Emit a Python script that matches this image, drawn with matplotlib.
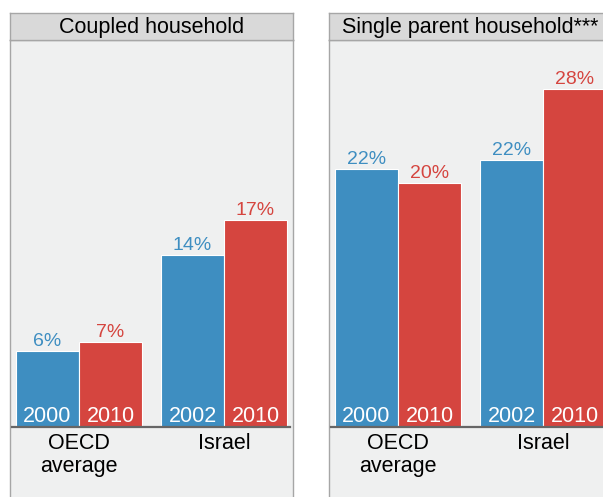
import matplotlib
matplotlib.use("Agg")
import matplotlib.pyplot as plt

plt.rcParams['font.family'] = ['Liberation Sans', 'DejaVu Sans']

# ------------------------------------------------------------------
# Data
# ------------------------------------------------------------------
panels = ['Coupled household', 'Single parent household***']
groups = ['OECD\naverage', 'Israel']
years_first = ['2000', '2002']        # first bar of each group
years_second = ['2010', '2010']       # second bar of each group

coupled_first = [6.3, 14.2]
coupled_second = [7.0, 17.1]
single_first = [21.4, 22.1]
single_second = [20.2, 28.0]

coupled_first_lbl = ['6%', '14%']
coupled_second_lbl = ['7%', '17%']
single_first_lbl = ['22%', '22%']
single_second_lbl = ['20%', '28%']

BLUE = '#3e8ec1'
RED = '#d5453f'
BG = '#eff0f0'
HEAD = '#d9d9d9'
EDGE = '#a6a6a6'

W, H = 603, 497
fig = plt.figure(figsize=(W / 100, H / 100), dpi=100)
fig.patch.set_facecolor('white')

series = [
    (coupled_first, coupled_second, coupled_first_lbl, coupled_second_lbl),
    (single_first, single_second, single_first_lbl, single_second_lbl),
]
panel_left = [10, 329]
panel_w = 283
head_top, head_bot, ax_bot = 13, 40, 512

for p, (title, (v1, v2, l1, l2)) in enumerate(zip(panels, series)):
    x0 = panel_left[p]
    ax = fig.add_axes([x0 / W, 1 - ax_bot / H, panel_w / W,
                       (ax_bot - head_bot) / H])
    ax.set_facecolor(BG)
    for s in ax.spines.values():
        s.set_color(EDGE)
        s.set_linewidth(1.0)
    ax.set_xticks([])
    ax.set_yticks([])
    ax.set_xlim(-0.476, 1.476)
    ax.set_ylim(-7.05, 32.05)

    xs = list(range(len(groups)))
    off, bw = 0.217, 0.434
    ax.bar([x - off for x in xs], v1, width=bw, color=BLUE,
           edgecolor='white', linewidth=0.8, zorder=2)
    ax.bar([x + off for x in xs], v2, width=bw, color=RED,
           edgecolor='white', linewidth=0.8, zorder=2)
    ax.axhline(0, xmin=0.008, xmax=0.99, color='#666666', lw=1.6, zorder=3)

    for i, x in enumerate(xs):
        for dx, val, lbl, yr, col in ((-off, v1[i], l1[i], years_first[i], BLUE),
                                      (off, v2[i], l2[i], years_second[i], RED)):
            ax.annotate(lbl, xy=(x + dx, val), xytext=(0, 5),
                        textcoords='offset pixels', ha='center',
                        va='baseline', color=col, fontsize=14)
            ax.annotate(yr, xy=(x + dx, 0), xytext=(0, 5),
                        textcoords='offset pixels', ha='center',
                        va='baseline', color='white', fontsize=15.5,
                        zorder=4)
        ax.annotate(groups[i], xy=(x, 0), xytext=(0, -6),
                    textcoords='offset pixels', ha='center', va='top',
                    color='black', fontsize=15.5, linespacing=1.15)

    hx = fig.add_axes([x0 / W, 1 - head_bot / H, panel_w / W,
                       (head_bot - head_top) / H])
    hx.set_facecolor(HEAD)
    for s in hx.spines.values():
        s.set_color(EDGE)
        s.set_linewidth(1.0)
    hx.set_xticks([])
    hx.set_yticks([])
    hx.text(0.5, 0.45, title, transform=hx.transAxes, ha='center',
            va='center', fontsize=15.5, color='black')

fig.savefig('out.png', dpi=100)
